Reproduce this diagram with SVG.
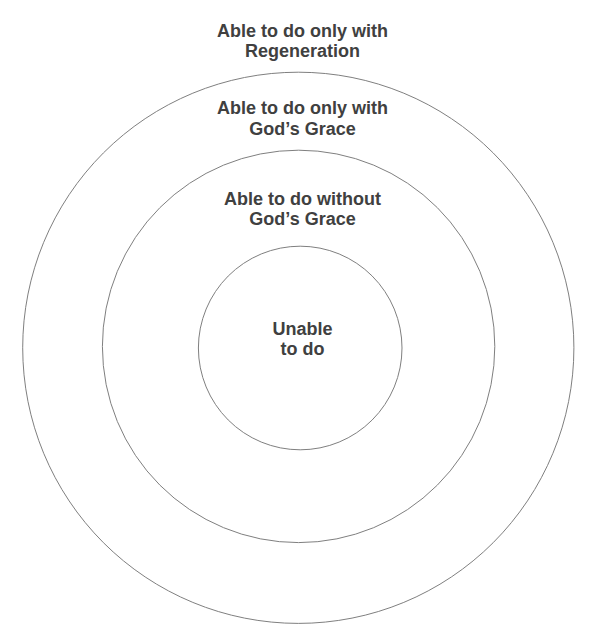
<svg xmlns="http://www.w3.org/2000/svg" width="597" height="643" viewBox="0 0 597 643">
<style>
.ring{fill:none;stroke:#7f7f7f;stroke-width:1}
.lbl{font-family:"Liberation Sans",Arial,sans-serif;font-size:18px;font-weight:bold;fill:#404040;text-anchor:middle}
</style>
<rect width="597" height="643" fill="#ffffff"/>
<g id="outer">
<circle class="ring" cx="298.3" cy="347.8" r="275.6"/>
<text class="lbl" x="302.5" y="36.5">Able to do only with</text>
<text class="lbl" x="302.5" y="56.5">Regeneration</text>
</g>
<g id="middle">
<circle class="ring" cx="298.6" cy="346.4" r="196.2"/>
<text class="lbl" x="302.5" y="114.3">Able to do only with</text>
<text class="lbl" x="302.5" y="134.5">God’s Grace</text>
</g>
<g id="inner-band">
<text class="lbl" x="302.5" y="205">Able to do without</text>
<text class="lbl" x="302.5" y="225">God’s Grace</text>
</g>
<g id="inner">
<circle class="ring" cx="300.2" cy="348" r="101.8"/>
<text class="lbl" x="302.5" y="335">Unable</text>
<text class="lbl" x="302.5" y="355">to do</text>
</g>
<g id="connectors"></g>
</svg>
